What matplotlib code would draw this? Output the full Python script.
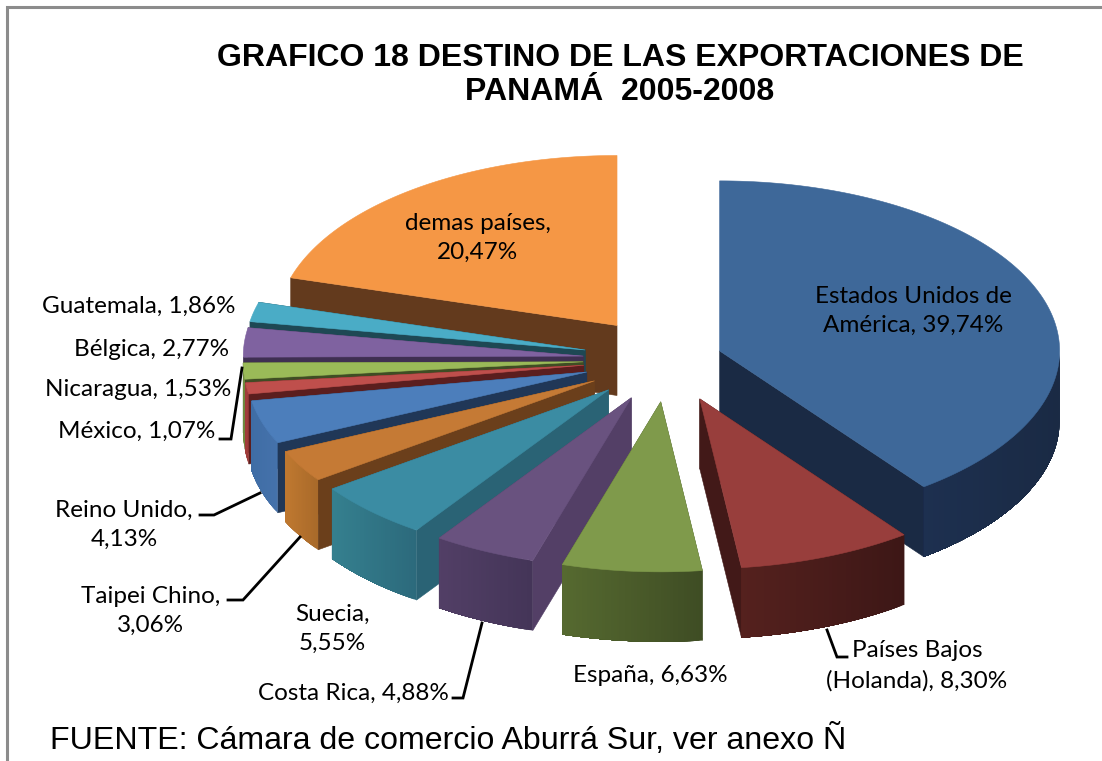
import numpy as np
import matplotlib
matplotlib.use('Agg')
import matplotlib.pyplot as plt
from matplotlib.patches import Polygon
from matplotlib.colors import to_rgb

# Datos
paises = ['Estados Unidos de\nAmérica', 'Países Bajos\n(Holanda)', 'España', 'Costa Rica', 'Suecia\n',
          'Taipei Chino\n', 'Reino Unido\n', 'México', 'Nicaragua', 'Bélgica', 'Guatemala', 'demas países\n']
valores = [39.74, 8.30, 6.63, 4.88, 5.55, 3.06, 4.13, 1.07, 1.53, 2.77, 1.86, 20.47]

# Estilo de cada porcion
c_cara = ['#3E6899', '#983E3C', '#7F9A4B', '#69527F', '#3B8CA3', '#C57A35',
          '#4C7EBB', '#BF4F4C', '#9ABA58', '#7F62A0', '#4AACC6', '#F59745']
c_corte = ['#1A2A44', '#421918', '#3F4D24', '#533F66', '#2A6375', '#6B3F1B',
           '#203757', '#5B1E1E', '#3F4D24', '#3F2F52', '#1E4854', '#633A1D']
c_izq = ['#1D3050', '#55211E', '#566A30', '#523F66', '#35808F', '#C07930',
         '#3F6DA5', '#A53F3C', '#6F8A3F', '#5F4A7C', '#35808F', '#B06A30']
c_der = ['#1A2A44', '#3D1716', '#3F4D24', '#443558', '#2C6A7C', '#A96A2A',
         '#4572AB', '#9C3A38', '#6F8A3F', '#5F4A7C', '#35808F', '#B06A30']
explode = [0.16, 0.25, 0.25, 0.25, 0.25, 0.25, 0.25, 0.25, 0.25, 0.25, 0.25, 0.25]
orden = [11, 10, 9, 8, 7, 6, 5, 4, 3, 0, 1, 2]

cx, cy = 668, 359.5
rx, ry = 340, 170
alto = 70

# posicion (x, y, ha) de las etiquetas
pos_etiq = [(913, 311, 'center'), (917, 666, 'center'), (650, 676, 'center'), (353, 693, 'center'),
            (332, 629, 'center'), (151, 611, 'center'), (124, 525, 'center'), (137, 431, 'center'),
            (138, 389, 'center'), (152, 350, 'center'), (139, 306, 'center'), (478, 238, 'center')]
lideres = [[(827, 630), (837, 657), (847, 657)],
           [(482, 623), (463, 698), (453, 698)],
           [(242, 368), (231, 439), (220, 439)],
           [(260, 493), (214, 515), (200, 515)],
           [(300, 537), (243, 600), (228, 600)]]

fig = plt.figure(figsize=(11.02, 7.61), dpi=100)
ax = fig.add_axes([0, 0, 1, 1])
ax.set_xlim(0, 1102)
ax.set_ylim(761, 0)
ax.axis('off')

# marco gris
ax.plot([7, 7, 1102], [761, 6.5, 6.5], color='#8C8C8C', lw=2.2, solid_joinstyle='miter')

limites = np.concatenate([[0], np.cumsum(valores)]) / sum(valores) * 360


def punto(ox, oy, ang):
    return ox + rx * np.sin(np.radians(ang)), oy - ry * np.cos(np.radians(ang))


def poligono(xs, ys, color, z, borde=0.4):
    ax.add_patch(Polygon(np.column_stack([xs, ys]), closed=True, fc=color,
                         ec=color if borde else 'none', lw=borde, zorder=z))


for z, i in enumerate(orden):
    a0, a1 = limites[i], limites[i + 1]
    medio = (a0 + a1) / 2
    ox, oy = punto(cx, cy, medio)
    ox = cx + explode[i] * (ox - cx)
    oy = cy + explode[i] * (oy - cy)

    # paredes de los cortes
    for a in (a0, a1):
        px, py = punto(ox, oy, a)
        if abs(px - ox) > 1:
            poligono([ox, px, px, ox], [oy, py, py + alto, oy + alto], c_corte[i], z + 2)

    # pared exterior, solo la parte de delante; cada banda tapa hasta el final para que no queden rayas
    b0, b1 = max(a0, 90), min(a1, 270)
    if b1 > b0:
        angs = np.linspace(b0, b1, int((b1 - b0) * 2) + 2)
        xs, ys = punto(ox, oy, angs)
        for k in range(len(angs) - 1):
            t = (xs[0] - xs[k]) / max(xs[0] - xs[-1], 1)
            col = np.array(to_rgb(c_der[i])) * (1 - t) + np.array(to_rgb(c_izq[i])) * t
            poligono(np.r_[xs[k:], xs[k:][::-1]], np.r_[ys[k:], ys[k:][::-1] + alto], col, z + 2, borde=0)

    # cara superior
    angs = np.linspace(a0, a1, int(a1 - a0) * 2 + 8)
    xs, ys = punto(ox, oy, angs)
    poligono(np.r_[ox, xs], np.r_[oy, ys], c_cara[i], z + 2)

for lin in lideres:
    ax.plot(*zip(*lin), color='black', lw=2, zorder=30, solid_joinstyle='miter')

for nombre, val, (x, y, ha) in zip(paises, valores, pos_etiq):
    txt = nombre.rstrip('\n')
    valor = f'{val:.2f}%'.replace('.', ',')
    if nombre.endswith('\n'):
        etiqueta = f'{txt},\n{valor}'
    else:
        etiqueta = f'{txt}, {valor}'
    ax.text(x, y, etiqueta, ha=ha, va='center', fontsize=17.5, family='Lato', linespacing=1.5,
            color='black', zorder=40)

ax.text(620, 75, 'GRAFICO 18 DESTINO DE LAS EXPORTACIONES DE\nPANAMÁ  2005-2008', ha='center', va='center',
        fontsize=23, fontweight='bold', family='Liberation Sans', linespacing=1.16, zorder=40)
ax.text(50, 740, 'FUENTE: Cámara de comercio Aburrá Sur, ver anexo Ñ', ha='left', va='center',
        fontsize=23.1, family='Liberation Sans', zorder=40)

fig.savefig('out.png', dpi=100)
